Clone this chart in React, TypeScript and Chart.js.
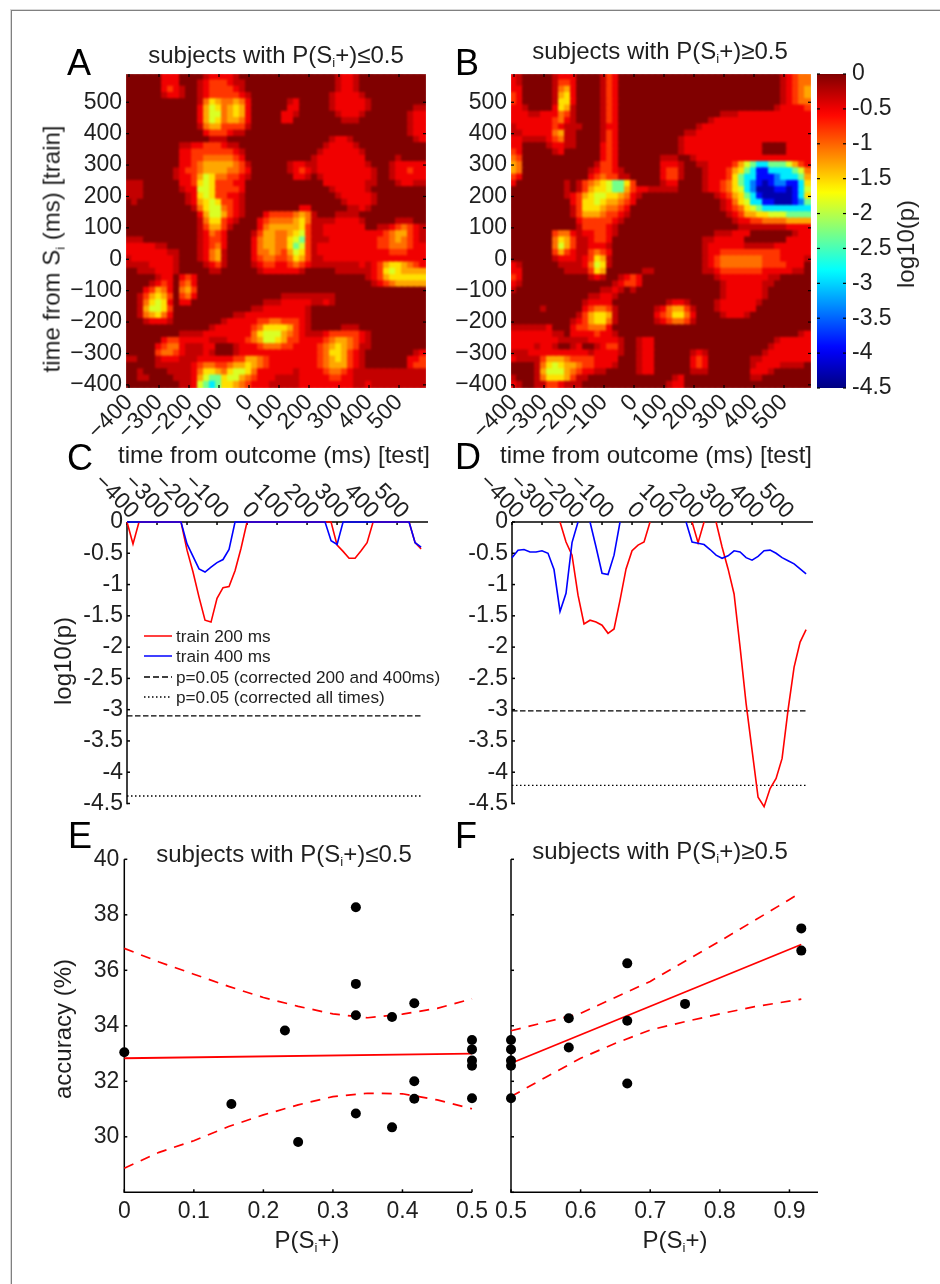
import React, { useEffect, useRef } from "react";
import { Chart, registerables } from "chart.js";

Chart.register(...registerables);

const FONT = '"Liberation Sans", Arial, sans-serif';
const INK = "#1f1f1f";

const TIME_TICKS = [-400, -300, -200, -100, 0, 100, 200, 300, 400, 500];
const LOG_TICKS = [0, -0.5, -1, -1.5, -2, -2.5, -3, -3.5, -4, -4.5];
const ACC_TICKS = [30, 32, 34, 36, 38, 40, 28];
const E_X_TICKS = [0, 0.1, 0.2, 0.3, 0.4, 0.5];
const F_X_TICKS = [0.5, 0.6, 0.7, 0.8, 0.9];

const TIMES = [-400, -380, -360, -340, -320, -300, -280, -260, -240, -220, -200, -180, -160, -140, -120, -100, -80, -60, -40, -20, 0, 20, 40, 60, 80, 100, 120, 140, 160, 180, 200, 220, 240, 260, 280, 300, 320, 340, 360, 380, 400, 420, 440, 460, 480, 500, 520, 540, 560, 580];

// heat-map level code (hex digit) -> log10(p)
const LEVEL_LOG10 = [0, -0.3, -0.5, -0.8, -1.05, -1.3, -1.55, -1.85, -2.3, -2.9, -3.4, -3.9, -4.3];

// rows run from train time 580 (top) to -400 (bottom)
const HEAT_A = [
  "0000002220 0001222210 0000000000 0000012210 0000000000",
  "0000002220 0012333211 0000000000 0000012210 0000000000",
  "0000002321 0012333321 0000000000 0000012210 0000000000",
  "0000001221 0012333332 1000000000 0000122221 0000000000",
  "0000000000 0014654454 2000000120 0000122222 1000000000",
  "0000000000 0025764565 2000000220 0000122222 1000000011",
  "0000000000 0025774565 2000002210 0000012221 0000000122",
  "0000000000 0025764554 2000002200 0000001110 0000000122",
  "0000000000 0014553333 1000000000 0000000000 0000000122",
  "0000000000 0002333211 0000000000 0000000000 0000000122",
  "0000000000 0000111000 0000000000 0000122100 0000000012",
  "0000000001 1223332110 0000000000 0001222210 0000000000",
  "0000000002 2333333321 0000000000 0012222221 0000000000",
  "0000000002 2334444432 0000000000 0122222222 0000010000",
  "0000000002 2345555543 1000000122 1122222222 1000122222",
  "0000000012 3345555443 2000000123 2122222222 2100122322",
  "0000000012 2357644332 1000000022 1012222222 2100122222",
  "1110000002 2367633322 0000000000 0002222222 1100012211",
  "1110000001 2277633332 0000000000 0000122222 1000000000",
  "1110000000 1267633221 0000000000 0000012222 2100000000",
  "0100000000 1256763321 0000000000 0000001222 2100000000",
  "0000000000 0146774321 0000000002 2000000112 1000000000",
  "0000000000 0025775321 0002333345 4100011110 0000000000",
  "0000000000 0014663210 0023444456 4111122221 0000011100",
  "0000000000 0013553100 0024555556 3112222222 0011234321",
  "0000000000 0012432000 0135544567 3112222222 2223455321",
  "1110000000 0012332000 0245544678 3111222222 2233454321",
  "2222211000 0012342000 0245544687 3122222222 2233444322",
  "2222222110 0012451000 0244543576 3122222222 2222333222",
  "1222222210 0012451000 0234433465 3112222222 2222222222",
  "1111222210 0001231000 0123322343 2111111112 1235665432",
  "0011122210 0000110000 0012222221 0000011111 1236765555",
  "0000012202 3200000000 0000000000 0000000000 1235666666",
  "0000123203 4200000000 0000000000 0000000000 0123455555",
  "0002354204 5300000000 0000000000 0000000000 0000000000",
  "0013565303 4200000000 0000001111 1111100000 0000000000",
  "0014676202 2000000000 0001112222 2112100000 0000000000",
  "0015776300 0000000000 0112222222 1000000000 0000000000",
  "0014564200 0000000011 2222222222 1000000000 0000000000",
  "0001222100 0000001222 2233443332 1000000000 0000000000",
  "0000000000 0000122222 2346666532 1000001110 0000000000",
  "0000000001 1112222222 2467775432 1112333332 1000000000",
  "0000002332 2222111222 3457765332 2223455432 1000000000",
  "0000023442 1112200012 2234443322 2234565431 1000000000",
  "0000034432 1112100012 2222222222 2234665321 0000000012",
  "1100012221 1122222233 5543222222 2234565321 0000000223",
  "0000011111 1234433455 6543222222 2234555321 0000000233",
  "0010000111 1246654677 6422222212 2223443211 1111111111",
  "0011000011 1257886775 4322211112 2222332211 1111111111",
  "0000000001 1278986654 3222111112 2222222211 2111111111",
];

const HEAT_B = [
  "2100000122 2000013200 0000000000 0000000000 0000012344",
  "2100000133 2000013200 0000000000 0000000000 0000012344",
  "2200000145 2000013200 0000000000 0000000000 0000012345",
  "3200000156 2000013200 0000000000 0000000000 0000012345",
  "3200000166 2000013200 0000000000 0000000000 0000012344",
  "2210000265 1000013200 0000000000 0000000000 0000122223",
  "2221122243 1000013200 0000000000 0000011122 2222222222",
  "2222222342 1000013200 0000000000 0001222222 2222222222",
  "1222222321 1100012200 0000000000 0122222222 2222222222",
  "1122222451 1000013200 0000000001 1222222222 2222222222",
  "2211112341 1000013200 0000000012 2222222222 2222222222",
  "2200001221 1000023200 0000000012 2222222222 2200002222",
  "3200000120 0000023200 0000000012 2222222222 2200002222",
  "4300000000 0000023200 0000011100 1222222222 2222222222",
  "5400000000 0000133200 0000022210 0112222357 8998887532",
  "5400000000 0001233210 0000023310 0012223568 9bb9999874",
  "3200000000 0002343311 0000023310 0012223689 9bbba99985",
  "2000000001 0134567886 3000012200 0012234689 abcbaabb96",
  "0000000001 0135667885 3221111100 0012234679 acccbbcb97",
  "0000000001 2356776654 2100000000 0000123568 9bcccccb96",
  "0000000000 2366765543 2000000000 0000012467 99bbcccba8",
  "0000000000 1366654432 0000000000 0000012346 7899999999",
  "0000000000 1355543321 0000000000 0000001235 5667778888",
  "0000000000 0233333210 0000000000 0000000122 3344445555",
  "0000000000 0133332100 0000000000 0000000011 1111112222",
  "0000000344 2122332100 0000000000 0000111222 0000000122",
  "0000000465 3112332000 0000000000 0011222220 0000002222",
  "0000000475 3112221000 0000000000 0012222221 1111222222",
  "0000000353 2113432000 0000000000 0012233333 3333322222",
  "0000000122 2123651000 0000000000 0012344444 4433322221",
  "2100000011 1124761000 0000000000 0012344444 4433332220",
  "2200000001 1113650000 0011000000 0011233333 3322222110",
  "3200000000 0001210012 3200000000 0000122222 2221100000",
  "2100000000 0000000123 3200000000 0000012222 2211000000",
  "1000000000 0000011210 1000000000 0000012222 2210000000",
  "0000000000 0001122100 0000000000 0000012222 2210000000",
  "0000000000 0012222000 0000001221 0000122222 2100000000",
  "0000010000 0023443100 0000124553 1000122222 2000000000",
  "0000000000 0135665100 0000234664 2000012221 0000000000",
  "0000000000 1235664100 0000123443 1000000000 0000000000",
  "1111112000 2334442000 0000000000 0000000000 0000000000",
  "2222222110 2222322100 0000000000 0000000000 0000000012",
  "2222222211 1112222210 0122000000 0000000000 0000122222",
  "2222122100 1200123310 0122000000 0000000000 0001222222",
  "1112222222 2221222210 0122000000 1210000000 0012222222",
  "2111135554 3333222200 0122000000 2320000000 1122222222",
  "0000146765 5433222100 0122000000 2320000000 1222211110",
  "0000157775 4322110000 0122000000 1110000000 2221000000",
  "1000146665 3110000000 0000000120 0000000000 1100000000",
  "2100113321 1100000000 0000001220 0000000000 0000000000",
];

const C_RED = [0, -0.35, 0, 0, 0, 0, 0, 0, 0, 0, -0.45, -0.8, -1.2, -1.57, -1.6, -1.22, -1.05, -1.03, -0.78, -0.42, 0, 0, 0, 0, 0, 0, 0, 0, 0, 0, 0, 0, 0, 0, 0, -0.37, -0.47, -0.58, -0.58, -0.46, -0.33, 0, 0, 0, 0, 0, 0, 0, -0.33, -0.43];
const C_BLUE = [0, 0, 0, 0, 0, 0, 0, 0, 0, 0, -0.35, -0.55, -0.75, -0.8, -0.72, -0.65, -0.6, -0.44, 0, 0, 0, 0, 0, 0, 0, 0, 0, 0, 0, 0, 0, 0, 0, 0, -0.3, -0.36, 0, 0, 0, 0, 0, 0, 0, 0, 0, 0, 0, 0, -0.33, -0.4];
const C_DASHED = -3.1;
const C_DOTTED = -4.38;

const D_RED = [null, null, null, null, null, null, null, null, 0, -0.32, -0.53, -1.17, -1.63, -1.57, -1.6, -1.65, -1.78, -1.71, -1.25, -0.75, -0.46, -0.37, -0.32, 0, null, null, null, null, null, null, 0, -0.33, 0, null, 0, -0.4, -0.75, -1.15, -2, -2.9, -3.65, -4.4, -4.55, -4.26, -4.1, -3.78, -3, -2.32, -1.92, -1.72];
const D_BLUE = [-0.57, -0.45, -0.44, -0.48, -0.48, -0.46, -0.5, -0.76, -1.43, -1.14, -0.33, 0, null, 0, -0.4, -0.82, -0.84, -0.53, 0, null, null, null, null, null, null, null, null, null, null, 0, -0.32, -0.34, -0.36, -0.44, -0.53, -0.58, -0.54, -0.46, -0.48, -0.57, -0.61, -0.55, -0.46, -0.45, -0.5, -0.57, -0.62, -0.67, -0.75, -0.83];
const D_DASHED = -3.02;
const D_DOTTED = -4.21;

const LEGEND_LABELS = ["train 200 ms", "train 400 ms", "p=0.05 (corrected 200 and 400ms)", "p=0.05 (corrected all times)"];

const E_PX = [0, 0.154, 0.231, 0.25, 0.333, 0.333, 0.333, 0.333, 0.385, 0.385, 0.417, 0.417, 0.417, 0.5, 0.5, 0.5, 0.5, 0.5];
const E_PY = [33.05, 31.18, 33.83, 29.81, 38.27, 35.51, 34.38, 30.84, 34.32, 30.34, 34.81, 32, 31.37, 33.49, 33.15, 32.75, 32.56, 31.39];
const E_FIT_X = [0, 0.5];
const E_FIT_Y = [32.83, 33];
const E_CI_X = [0, 0.05, 0.1, 0.15, 0.2, 0.25, 0.3, 0.35, 0.4, 0.45, 0.5];
const E_CI_UP = [36.79, 36.3, 35.86, 35.42, 35.02, 34.7, 34.43, 34.29, 34.42, 34.63, 34.97];
const E_CI_LO = [28.87, 29.44, 29.86, 30.37, 30.79, 31.15, 31.45, 31.57, 31.55, 31.33, 31.01];

const F_PX = [0.5, 0.5, 0.5, 0.5, 0.5, 0.583, 0.583, 0.667, 0.667, 0.667, 0.75, 0.917, 0.917];
const F_PY = [33.49, 33.15, 32.75, 32.56, 31.39, 34.27, 33.22, 36.25, 34.18, 31.92, 34.79, 37.51, 36.71];
const F_FIT_X = [0.5, 0.917];
const F_FIT_Y = [32.65, 36.93];
const F_CI_UP_X = [0.5, 0.6, 0.7, 0.8, 0.9, 0.917];
const F_CI_UP = [33.82, 34.45, 35.6, 37.05, 38.55, 38.81];
const F_CI_LO_X = [0.5, 0.55, 0.6, 0.65, 0.7, 0.75, 0.8, 0.85, 0.917];
const F_CI_LO = [31.45, 32.15, 32.83, 33.37, 33.85, 34.15, 34.43, 34.69, 34.96];

const W = 940;
const H = 1284;

function jet(logp: number) {
  const x = 1 + logp / 4.5;
  const c = (v: number) => Math.round(255 * Math.max(0, Math.min(1, v)));
  const r = c(Math.min(4 * x - 1.5, -4 * x + 4.5));
  const g = c(Math.min(4 * x - 0.5, -4 * x + 3.5));
  const b = c(Math.min(4 * x + 0.5, -4 * x + 2.5));
  return `rgb(${r},${g},${b})`;
}

function axisOf(scale: any, pos: number, dir: number, len: number, horizontal: boolean, ctx: any) {
  scale.ticks.forEach((t: any) => {
    const p = scale.getPixelForValue(t.value);
    ctx.beginPath();
    if (horizontal) {
      ctx.moveTo(p, pos);
      ctx.lineTo(p, pos + dir * len);
    } else {
      ctx.moveTo(pos, p);
      ctx.lineTo(pos + dir * len, p);
    }
    ctx.stroke();
  });
}

function drawAxes(chart: any, o: any) {
  const { ctx, chartArea: a, scales } = chart;
  ctx.save();
  ctx.strokeStyle = "#000";
  ctx.lineWidth = o.width ?? 1.5;
  const sides: string[] = o.spines ?? [];
  sides.forEach((s) => {
    ctx.beginPath();
    if (s === "left") { ctx.moveTo(a.left, a.top); ctx.lineTo(a.left, a.bottom + 0.7); }
    if (s === "top") { ctx.moveTo(a.left, a.top); ctx.lineTo(a.right, a.top); }
    if (s === "bottom") { ctx.moveTo(a.left, a.bottom); ctx.lineTo(a.right, a.bottom); }
    ctx.stroke();
  });
  const len = o.len ?? 3;
  ((o.ticks ?? []) as string[]).forEach((s) => {
    if (s === "left") axisOf(scales.y, a.left, 1, len, false, ctx);
    if (s === "right") axisOf(scales.y, a.right, -1, len, false, ctx);
    if (s === "top") axisOf(scales.x, a.top, 1, len, true, ctx);
    if (s === "bottom") axisOf(scales.x, a.bottom, -1, len, true, ctx);
  });
  ctx.restore();
}

const axesPlugin = {
  id: "axes",
  beforeDatasetsDraw(chart: any, _: any, o: any) {
    if (!o.front) drawAxes(chart, o);
  },
  afterDatasetsDraw(chart: any, _: any, o: any) {
    if (o.front) drawAxes(chart, o);
    // slanted tick labels above a top axis, ending at their tick
    if (o.slanted) {
      const { ctx, chartArea: a, scales } = chart;
      ctx.save();
      ctx.fillStyle = INK;
      ctx.font = `23px ${FONT}`;
      ctx.textAlign = "right";
      ctx.textBaseline = "middle";
      scales.x.ticks.forEach((t: any) => {
        const label = String(t.value).replace("-", "\u2212");
        ctx.save();
        ctx.translate(scales.x.getPixelForValue(t.value) + 7.5, a.top - 7);
        ctx.rotate(Math.PI / 4);
        ctx.fillText(label, 0, 0);
        ctx.restore();
      });
      ctx.restore();
    }
    if (o.legend) {
      const { ctx } = chart;
      const ys = [636, 656, 677, 697];
      const styles = [
        { c: "#ff0000", d: [] as number[] },
        { c: "#0000ff", d: [] as number[] },
        { c: "#000", d: [6, 3] },
        { c: "#000", d: [1.5, 2.5] },
      ];
      ctx.save();
      ctx.font = `17.2px ${FONT}`;
      ctx.textBaseline = "middle";
      LEGEND_LABELS.forEach((txt, i) => {
        ctx.beginPath();
        ctx.setLineDash(styles[i].d);
        ctx.strokeStyle = styles[i].c;
        ctx.lineWidth = 1.5;
        ctx.moveTo(144, ys[i]);
        ctx.lineTo(172, ys[i]);
        ctx.stroke();
        ctx.setLineDash([]);
        ctx.fillStyle = INK;
        ctx.fillText(txt, 176, ys[i] + 1);
      });
      ctx.restore();
    }
  },
};

type Box = { l: number; t: number; r: number; b: number };

function baseOptions(box: Box, xOpts: any, yOpts: any, axes: any) {
  const xTop = xOpts.position === "top";
  const yRight = yOpts.position === "right";
  return {
    animation: false,
    responsive: false,
    devicePixelRatio: 1,
    layout: {
      padding: {
        left: yRight ? box.l : 0,
        right: yRight ? 0 : W - box.r,
        top: xTop ? 0 : box.t,
        bottom: xTop ? H - box.b : 0,
      },
    },
    plugins: { legend: { display: false }, title: { display: false }, tooltip: { enabled: false }, axes },
    scales: {
      x: {
        type: "linear",
        ...xOpts,
        grid: { display: false, drawTicks: false },
        border: { display: false },
        afterFit: (s: any) => { s.height = xTop ? box.t : H - box.b; },
        afterBuildTicks: (s: any) => { s.ticks = xOpts.tickValues.map((v: number) => ({ value: v })); },
      },
      y: {
        type: "linear",
        ...yOpts,
        grid: { display: false, drawTicks: false },
        border: { display: false },
        afterFit: (s: any) => { s.width = yRight ? W - box.r : box.l; },
        afterBuildTicks: (s: any) => { s.ticks = yOpts.tickValues.map((v: number) => ({ value: v })); },
      },
    },
  };
}

const tickFont = { family: FONT, size: 23 };

function timeLabel(v: any) {
  return String(v).replace("-", "\u2212");
}

// cells: the coloured grid alone (softened by the page); frame: its axes and labels
function heatConfig(rows: string[], box: Box, layer: "cells" | "frame") {
  const pts: any[] = [];
  const colors: string[] = [];
  if (layer === "cells") {
    rows.forEach((row, r) => {
      const cells = row.replace(/ /g, "");
      for (let c = 0; c < cells.length; c++) {
        pts.push({ x: TIMES[c], y: TIMES[49 - r] });
        colors.push(jet(LEVEL_LOG10[parseInt(cells[c], 16)]));
      }
    });
  }
  const labels = layer === "frame";
  return {
    type: "scatter",
    data: {
      datasets: [{
        data: pts,
        pointStyle: "rect",
        pointRadius: 5.6,
        pointBackgroundColor: colors,
        pointBorderWidth: 0,
        borderWidth: 0,
        clip: false,
      }],
    },
    options: baseOptions(
      box,
      {
        min: -410, max: 590, tickValues: TIME_TICKS, position: "bottom",
        ticks: { display: labels, font: tickFont, color: INK, minRotation: 45, maxRotation: 45, padding: 1, autoSkip: false, callback: timeLabel },
      },
      {
        min: -410, max: 590, tickValues: TIME_TICKS, position: "left",
        ticks: { display: labels, font: tickFont, color: INK, padding: 4, callback: timeLabel },
      },
      labels ? { ticks: ["left", "right", "top", "bottom"], len: 3, front: true, width: 1.2 } : {}
    ),
    plugins: [axesPlugin],
  };
}

function colorbarConfig(box: Box) {
  return {
    type: "bar",
    data: {
      labels: ["log10(p)"],
      datasets: [{
        data: [[-4.5, 0]],
        barPercentage: 1,
        categoryPercentage: 1,
        borderWidth: 0,
        backgroundColor: (ctx: any) => {
          const a = ctx.chart.chartArea;
          if (!a) return "#800000";
          const g = ctx.chart.ctx.createLinearGradient(0, a.top, 0, a.bottom);
          for (let i = 0; i <= 45; i++) g.addColorStop(i / 45, jet(-i / 10));
          return g;
        },
      }],
    },
    options: (() => {
      const o: any = baseOptions(
        box,
        { position: "bottom", tickValues: [], ticks: { display: false } },
        {
          min: -4.5, max: 0, tickValues: LOG_TICKS, position: "right",
          ticks: { font: tickFont, color: INK, padding: 6, callback: (v: any) => String(v) },
        },
        { ticks: ["left", "right"], len: 3, front: true, width: 1.2 }
      );
      o.scales.x.type = "category";
      o.scales.x.display = true;
      o.layout.padding.bottom = H - box.b;
      o.scales.x.afterFit = (s: any) => { s.height = 0; };
      o.scales.x.afterBuildTicks = undefined;
      return o;
    })(),
    plugins: [axesPlugin],
  };
}

const line = (xs: number[], ys: (number | null)[]) => xs.map((x, i) => ({ x, y: ys[i] }));
const level = (v: number) => [{ x: -400, y: v }, { x: 580, y: v }];

function traceConfig(red: (number | null)[], blue: (number | null)[], dashed: number, dotted: number, box: Box, legend: boolean) {
  const common = { showLine: true, pointRadius: 0, tension: 0, clip: false, fill: false };
  return {
    type: "scatter",
    data: {
      datasets: [
        { ...common, label: "train 400 ms", data: line(TIMES, blue), borderColor: "#0000ff", borderWidth: 1.6 },
        { ...common, label: "train 200 ms", data: line(TIMES, red), borderColor: "#ff0000", borderWidth: 1.6 },
        { ...common, label: "corrected 200 and 400ms", data: level(dashed), borderColor: "#000", borderWidth: 1.4, borderDash: [5.5, 2.5] },
        { ...common, label: "corrected all times", data: level(dotted), borderColor: "#000", borderWidth: 1.4, borderDash: [1.5, 2.5] },
      ],
    },
    options: baseOptions(
      box,
      { min: -400, max: 603, tickValues: TIME_TICKS, position: "top", ticks: { display: false } },
      {
        min: -4.5, max: 0, tickValues: LOG_TICKS, position: "left",
        ticks: { font: tickFont, color: INK, padding: 4, callback: (v: any) => String(v) },
      },
      { spines: ["left", "top"], ticks: ["left", "top"], len: 3, slanted: true, legend }
    ),
    plugins: [axesPlugin],
  };
}

function scatterConfig(
  px: number[], py: number[], fitX: number[], fitY: number[],
  upX: number[], up: number[], loX: number[], lo: number[],
  box: Box, xMin: number, xMax: number, xTicks: number[], showY: boolean
) {
  const common = { showLine: true, pointRadius: 0, tension: 0, clip: false, fill: false };
  return {
    type: "scatter",
    data: {
      datasets: [
        { label: "subjects", data: line(px, py), pointRadius: 5, pointBackgroundColor: "#000", pointBorderWidth: 0, clip: false },
        { ...common, label: "fit", data: line(fitX, fitY), borderColor: "#ff0000", borderWidth: 1.8 },
        { ...common, label: "upper", data: line(upX, up), borderColor: "#ff0000", borderWidth: 1.7, borderDash: [10, 8] },
        { ...common, label: "lower", data: line(loX, lo), borderColor: "#ff0000", borderWidth: 1.7, borderDash: [10, 8] },
      ],
    },
    options: baseOptions(
      box,
      {
        min: xMin, max: xMax, tickValues: xTicks, position: "bottom",
        ticks: { font: tickFont, color: INK, padding: 6, autoSkip: false, maxRotation: 0, callback: (v: any) => String(v) },
      },
      {
        min: 28, max: 40, tickValues: ACC_TICKS.filter((v) => showY ? v !== 28 : true), position: "left",
        ticks: { font: tickFont, color: INK, padding: 5, display: showY, callback: (v: any) => String(v) },
      },
      { spines: ["left", "bottom"], ticks: ["left", "bottom"], len: 3 }
    ),
    plugins: [axesPlugin],
  };
}

const BOX_A = { l: 126, t: 74, r: 426, b: 388 };
const BOX_B = { l: 511, t: 74, r: 811, b: 388 };

const CELL_LAYERS: any[] = [
  { box: BOX_A, config: heatConfig(HEAT_A, BOX_A, "cells") },
  { box: BOX_B, config: heatConfig(HEAT_B, BOX_B, "cells") },
];

const PANELS: any[] = [
  heatConfig(HEAT_A, BOX_A, "frame"),
  heatConfig(HEAT_B, BOX_B, "frame"),
  colorbarConfig({ l: 817, t: 74, r: 846, b: 388 }),
  traceConfig(C_RED, C_BLUE, C_DASHED, C_DOTTED, { l: 127, t: 522, r: 428, b: 803.5 }, true),
  traceConfig(D_RED, D_BLUE, D_DASHED, D_DOTTED, { l: 512, t: 522, r: 813, b: 803.5 }, false),
  scatterConfig(E_PX, E_PY, E_FIT_X, E_FIT_Y, E_CI_X, E_CI_UP, E_CI_X, E_CI_LO, { l: 124.3, t: 859.3, r: 472, b: 1192.3 }, 0, 0.5, E_X_TICKS, true),
  scatterConfig(F_PX, F_PY, F_FIT_X, F_FIT_Y, F_CI_UP_X, F_CI_UP, F_CI_LO_X, F_CI_LO, { l: 511, t: 859.3, r: 818, b: 1192.3 }, 0.5, 0.941, F_X_TICKS, false),
];

function Panel({ config, blur }: { config: any; blur?: boolean }) {
  const ref = useRef<HTMLCanvasElement>(null);
  useEffect(() => {
    const chart = new Chart(ref.current as any, config);
    return () => chart.destroy();
  }, [config]);
  return (
    <canvas
      ref={ref}
      width={W}
      height={H}
      style={{ position: "absolute", left: 0, top: 0, width: W, height: H, filter: blur ? "blur(1.3px)" : undefined }}
    />
  );
}

function Si() {
  return (
    <>
      S<span style={{ fontSize: "0.55em", verticalAlign: "-0.35em" }}>i</span>
    </>
  );
}

function Label({ x, y, size = 24, rot = 0, children }: any) {
  return (
    <div
      style={{
        position: "absolute", left: x, top: y, fontFamily: FONT, fontSize: size, lineHeight: 1, color: INK,
        whiteSpace: "nowrap", transform: `translate(-50%,-50%) rotate(${rot}deg)`,
      }}
    >
      {children}
    </div>
  );
}

function Letter({ x, base, children }: any) {
  return (
    <div style={{ position: "absolute", left: x, top: base - 30.5, fontFamily: FONT, fontSize: 36, lineHeight: 1, color: "#000" }}>
      {children}
    </div>
  );
}

export default function App() {
  return (
    <div style={{ position: "absolute", left: 0, top: 0, width: W, height: H, background: "#fff", overflow: "hidden" }}>
      <div style={{ position: "absolute", left: 11, top: 10, width: W, height: H, borderLeft: "1px solid #808080", borderTop: "1px solid #808080", boxShadow: "-1px -1px 0 #d8d8d8" }} />
      {CELL_LAYERS.map((c, i) => (
        <div
          key={i}
          style={{
            position: "absolute", left: 0, top: 0, width: W, height: H,
            clipPath: `inset(${c.box.t}px ${W - c.box.r}px ${H - c.box.b}px ${c.box.l}px)`,
          }}
        >
          <Panel config={c.config} blur />
        </div>
      ))}
      {PANELS.map((c, i) => <Panel key={i} config={c} />)}
      <Letter x={67} base={75}>A</Letter>
      <Letter x={455} base={75}>B</Letter>
      <Letter x={67} base={470}>C</Letter>
      <Letter x={455} base={469}>D</Letter>
      <Letter x={68} base={848}>E</Letter>
      <Letter x={455} base={848}>F</Letter>
      <Label x={276} y={56}>subjects with P(<Si />+)≤0.5</Label>
      <Label x={660} y={52}>subjects with P(<Si />+)≥0.5</Label>
      <Label x={274} y={455}>time from outcome (ms) [test]</Label>
      <Label x={656} y={455}>time from outcome (ms) [test]</Label>
      <Label x={284} y={855}>subjects with P(<Si />+)≤0.5</Label>
      <Label x={660} y={852}>subjects with P(<Si />+)≥0.5</Label>
      <Label x={53} y={249} rot={-90}>time from <Si /> (ms) [train]</Label>
      <Label x={906} y={244} rot={-90}>log10(p)</Label>
      <Label x={63} y={661} rot={-90}>log10(p)</Label>
      <Label x={63} y={1029} rot={-90}>accuracy (%)</Label>
      <Label x={307} y={1241}>P(<Si />+)</Label>
      <Label x={675} y={1241}>P(<Si />+)</Label>
    </div>
  );
}
